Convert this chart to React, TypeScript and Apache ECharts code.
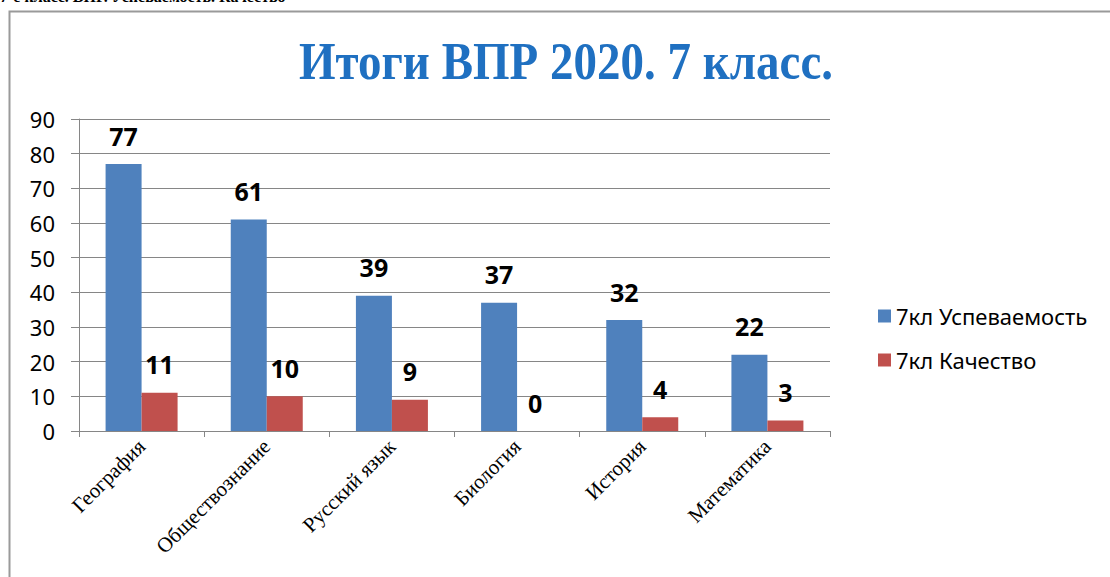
import React, { useEffect, useRef } from "react";
import * as echarts from "echarts";

const categories = ["География", "Обществознание", "Русский язык", "Биология", "История", "Математика"];
const uspevaemost = [77, 61, 39, 37, 32, 22];
const kachestvo = [11, 10, 9, 0, 4, 3];
const seriesNames = ["7кл Успеваемость", "7кл Качество"];
const titleText = "Итоги ВПР 2020. 7 класс.";
const headerText = "7-е класс. ВПР. Успеваемость. Качество";

export default function App() {
  const ref = useRef<HTMLDivElement>(null);
  useEffect(() => {
    if (!ref.current) return;
    const chart = echarts.init(ref.current, undefined, { renderer: "svg" });
    const labelStyle = {
      show: true,
      position: "top",
      distance: 16,
      fontFamily: "Noto Sans",
      fontWeight: "bold",
      fontSize: 25,
      color: "#000",
    };
    chart.setOption({
      animation: false,
      backgroundColor: "#fff",
      graphic: [
        {
          type: "rect",
          shape: { x: 9.5, y: 11.5, width: 1120, height: 600 },
          style: { fill: "none", stroke: "#9a9a9a", lineWidth: 2 },
          silent: true,
        },
        {
          type: "text",
          x: 0,
          y: 4,
          style: {
            text: headerText,
            fontFamily: "Liberation Serif",
            fontWeight: "bold",
            fontSize: 16,
            fill: "#000",
            textVerticalAlign: "bottom",
          },
        },
        {
          type: "text",
          x: 566,
          y: 62,
          scaleY: 1.12,
          style: {
            text: titleText,
            fontFamily: "Liberation Serif",
            fontWeight: "bold",
            fontSize: 47,
            fill: "#1F70C1",
            textAlign: "center",
            textVerticalAlign: "middle",
          },
        },
      ],
      grid: { left: 79, right: 280, top: 119, bottom: 146 },
      legend: {
        orient: "vertical",
        left: 873,
        top: 300,
        itemWidth: 13,
        itemHeight: 13,
        itemGap: 22,
        icon: "rect",
        data: seriesNames,
        textStyle: { fontFamily: "Noto Sans", fontSize: 22, color: "#000" },
      },
      xAxis: {
        type: "category",
        data: categories,
        axisLine: { lineStyle: { color: "#868686" } },
        axisTick: { show: true, length: 6, lineStyle: { color: "#868686" } },
        axisLabel: {
          rotate: 45,
          interval: 0,
          margin: 12,
          fontFamily: "Liberation Serif",
          fontSize: 21,
          color: "#000",
        },
      },
      yAxis: {
        type: "value",
        min: 0,
        max: 90,
        interval: 10,
        axisLine: { show: true, lineStyle: { color: "#868686" } },
        axisTick: { show: true, length: 8, lineStyle: { color: "#868686" } },
        splitLine: { lineStyle: { color: "#868686" } },
        axisLabel: { fontFamily: "Noto Sans", fontSize: 22, color: "#000", margin: 24 },
      },
      series: [
        {
          name: seriesNames[0],
          type: "bar",
          data: uspevaemost,
          barWidth: 36,
          barGap: "0%",
          itemStyle: { color: "#4F81BD" },
          label: labelStyle,
        },
        {
          name: seriesNames[1],
          type: "bar",
          data: kachestvo,
          barWidth: 36,
          barGap: "0%",
          itemStyle: { color: "#C0504D" },
          label: labelStyle,
        },
      ],
    });
    return () => chart.dispose();
  }, []);
  return (
    <div
      ref={ref}
      style={{ position: "fixed", left: 0, top: 0, width: 1110, height: 577 }}
    />
  );
}
